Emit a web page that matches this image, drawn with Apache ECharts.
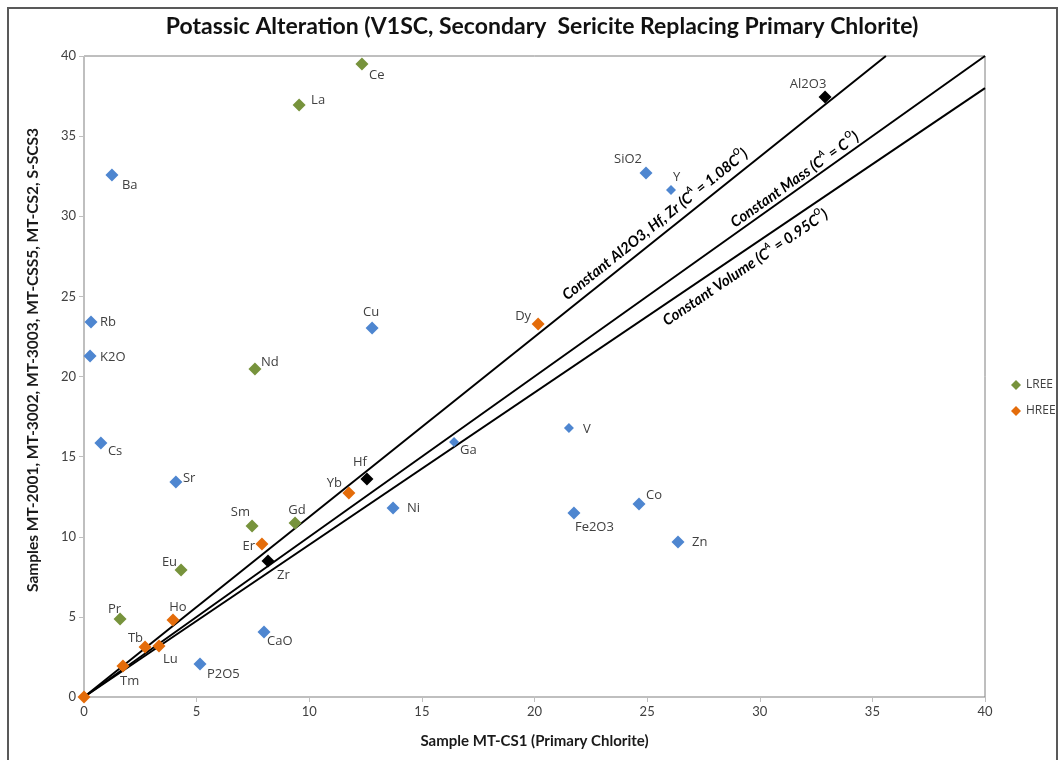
<!DOCTYPE html>
<html>
<head>
<meta charset="utf-8">
<title>Potassic Alteration</title>
<script src="https://cdn.jsdelivr.net/npm/echarts@6/dist/echarts.min.js"></script>
<style>
  html, body { margin: 0; padding: 0; background: #fff; }
  #chart { width: 1060px; height: 760px; }
</style>
</head>
<body>
<div id="chart"></div>
<script>
// Major oxides and trace elements (blue)
const otherNames = ['Ba', 'Rb', 'K2O', 'Cs', 'Sr', 'Cu', 'SiO2', 'Y', 'Ga', 'V', 'Ni', 'Fe2O3', 'Co', 'Zn', 'CaO', 'P2O5'];
const otherX = [1.24, 0.31, 0.27, 0.75, 4.08, 12.79, 24.95, 26.06, 16.43, 21.53, 13.72, 21.75, 24.64, 26.37, 7.99, 5.15];
const otherY = [32.57, 23.40, 21.28, 15.85, 13.42, 23.03, 32.70, 31.64, 15.91, 16.79, 11.79, 11.48, 12.04, 9.67, 4.06, 2.06];

// Light rare earth elements
const lreeNames = ['Ce', 'La', 'Nd', 'Sm', 'Gd', 'Eu', 'Pr'];
const lreeX = [12.34, 9.55, 7.59, 7.46, 9.37, 4.31, 1.60];
const lreeY = [39.50, 36.94, 20.47, 10.67, 10.86, 7.93, 4.87];

// Heavy rare earth elements
const hreeNames = ['Dy', 'Yb', 'Er', 'Ho', 'Tb', 'Lu', 'Tm', ''];
const hreeX = [20.16, 11.76, 7.90, 3.95, 2.71, 3.33, 1.73, 0];
const hreeY = [23.28, 12.73, 9.55, 4.80, 3.12, 3.18, 1.93, 0];

// Immobile constituents defining the isocon
const immobileNames = ['Al2O3', 'Hf', 'Zr'];
const immobileX = [32.9, 12.56, 8.17];
const immobileY = [37.44, 13.60, 8.49];

// Reference lines through the origin: [end x, end y]
const isoconEnd = [35.6, 40];
const massEnd = [40, 40];
const volumeEnd = [40, 38];

const axisTicks = [0, 5, 10, 15, 20, 25, 30, 35, 40];

// Label anchor offsets (px from marker centre) and text alignment
const labelPlace = {
  Ce: [7, 11, 'left'], La: [12, -5, 'left'], Ba: [10, 10, 'left'], Rb: [9, 0, 'left'],
  K2O: [10, 1, 'left'], Cs: [7, 8, 'left'], Sr: [7, -4, 'left'], Nd: [6, -7, 'left'],
  Cu: [-1, -16, 'center'], Sm: [-2, -14, 'right'], Gd: [2, -13, 'center'], Er: [-7, 2, 'right'],
  Eu: [-4, -8, 'right'], Pr: [1, -10, 'right'], Ho: [5, -13, 'center'], Tb: [-2, -9, 'right'],
  Lu: [4, 13, 'left'], Tm: [-3, 15, 'left'], P2O5: [7, 10, 'left'], CaO: [3, 9, 'left'],
  Zr: [9, 14, 'left'], Yb: [-7, -10, 'right'], Hf: [-7, -17, 'center'], Ni: [14, 0, 'left'],
  Ga: [6, 8, 'left'], Dy: [-7, -8, 'right'], V: [14, 1, 'left'], Fe2O3: [1, 14, 'left'],
  Co: [7, -9, 'left'], Zn: [14, 0, 'left'], SiO2: [-18, -14, 'center'], Y: [2, -13, 'left'],
  Al2O3: [-17, -13, 'center']
};
const smallMarkers = { V: 1, Y: 1, Ga: 1 };

function points(names, xs, ys) {
  return names.map(function (n, i) {
    const p = labelPlace[n] || [0, 0, 'center'];
    return {
      name: n,
      value: [xs[i], ys[i]],
      symbolSize: smallMarkers[n] ? 10 : 13,
      label: { offset: [p[0], p[1]], align: p[2] }
    };
  });
}

const labelStyle = {
  show: true,
  position: 'inside',
  verticalAlign: 'middle',
  formatter: '{b}',
  color: '#404040',
  fontFamily: 'Open Sans',
  fontSize: 13
};

function scatter(name, color, names, xs, ys) {
  return {
    name: name,
    type: 'scatter',
    symbol: 'diamond',
    itemStyle: { color: color, opacity: 1 },
    label: labelStyle,
    data: points(names, xs, ys),
    z: 5
  };
}

function refLine(name, end) {
  return {
    name: name,
    type: 'line',
    data: [[0, 0], end],
    showSymbol: false,
    symbol: 'none',
    silent: true,
    lineStyle: { color: '#000', width: 2 },
    z: 3
  };
}

const chart = echarts.init(document.getElementById('chart'), null, { renderer: 'canvas' });

const axisCommon = {
  type: 'value',
  min: axisTicks[0],
  max: axisTicks[axisTicks.length - 1],
  interval: axisTicks[1] - axisTicks[0],
  axisLine: { show: true, lineStyle: { color: '#BFBFBF', width: 1 } },
  axisTick: { show: true, inside: false, length: 5, lineStyle: { color: '#BFBFBF' } },
  axisLabel: { color: '#404040', fontFamily: 'Lato', fontSize: 13 },
  splitLine: { show: false },
  nameLocation: 'middle',
  nameTextStyle: { color: '#1a1a1a', fontFamily: 'Lato', fontWeight: 'bold', fontSize: 15 }
};

const yAxisTitle = 'Samples MT-2001, MT-3002, MT-3003, MT-CSS5, MT-CS2, S-SCS3';

chart.setOption({
  animation: false,
  backgroundColor: '#fff',
  title: {
    text: 'Potassic Alteration (V1SC, Secondary  Sericite Replacing Primary Chlorite)',
    left: 537,
    textAlign: 'center',
    top: 10,
    textStyle: { fontFamily: 'Lato', fontWeight: 'bold', fontSize: 23, color: '#111' }
  },
  grid: {
    left: 84, right: 75, top: 56, bottom: 63,
    show: true, borderColor: '#7F7F7F', borderWidth: 1, backgroundColor: 'transparent'
  },
  legend: {
    data: ['LREE', 'HREE'],
    orient: 'vertical',
    left: 1006,
    top: 374,
    itemGap: 14,
    itemWidth: 10,
    itemHeight: 10,
    icon: 'diamond',
    textStyle: { fontFamily: 'Open Sans', fontSize: 12, color: '#404040' }
  },
  xAxis: Object.assign({}, axisCommon, {
    name: 'Sample MT-CS1 (Primary Chlorite)',
    nameGap: 37
  }),
  yAxis: Object.assign({}, axisCommon),
  series: [
    refLine('isocon', isoconEnd),
    refLine('mass', massEnd),
    refLine('volume', volumeEnd),
    scatter('Other', '#4E86D0', otherNames, otherX, otherY),
    scatter('Immobile', '#000000', immobileNames, immobileX, immobileY),
    scatter('LREE', '#77933C', lreeNames, lreeX, lreeY),
    scatter('HREE', '#E46C0A', hreeNames, hreeX, hreeY)
  ]
});

// Rotated captions along the reference lines
function lineCaption(end, atX, shift, parts) {
  const p0 = chart.convertToPixel({ gridIndex: 0 }, [0, 0]);
  const p1 = chart.convertToPixel({ gridIndex: 0 }, end);
  const ang = Math.atan2(p0[1] - p1[1], p1[0] - p0[0]);
  const pt = chart.convertToPixel({ gridIndex: 0 }, [atX, atX * end[1] / end[0]]);
  let text = '';
  parts.forEach(function (s) { text += s[1] ? '{s|' + s[0] + '}' : '{n|' + s[0] + '}'; });
  return {
    type: 'text',
    x: pt[0] + Math.sin(ang) * shift,
    y: pt[1] + Math.cos(ang) * shift,
    rotation: ang,
    z: 10,
    style: {
      text: text,
      align: 'center',
      verticalAlign: 'middle',
      rich: {
        n: { fontFamily: 'Lato', fontStyle: 'italic', fontWeight: 'bold', fontSize: 15, color: '#1a1a1a', lineHeight: 18, verticalAlign: 'bottom' },
        s: { fontFamily: 'Lato', fontStyle: 'italic', fontWeight: 'bold', fontSize: 9, color: '#1a1a1a', lineHeight: 18, verticalAlign: 'top' }
      }
    }
  };
}

chart.setOption({
  graphic: [
    {
      type: 'rect',
      shape: { x: 8, y: 8, width: 1049, height: 780 },
      style: { fill: 'none', stroke: '#595959', lineWidth: 2 },
      silent: true
    },
    {
      type: 'text',
      x: 33,
      y: 360,
      rotation: Math.PI / 2,
      style: {
        text: yAxisTitle,
        align: 'center',
        verticalAlign: 'middle',
        fontFamily: 'Lato',
        fontWeight: 'bold',
        fontSize: 15.5,
        fill: '#1a1a1a'
      }
    },
    lineCaption(isoconEnd, 25.7, -14, [['Constant Al2O3, Hf, Zr (C'], ['A', 1], [' = 1.08C'], ['O', 1], [')']]),
    lineCaption(massEnd, 31.8, -11, [['Constant Mass (C'], ['A', 1], [' = C'], [' O', 1], [')']]),
    lineCaption(volumeEnd, 29.0, 13, [['Constant Volume (C'], ['A', 1], [' = 0.95C'], ['O', 1], [')']])
  ]
});
</script>
</body>
</html>
